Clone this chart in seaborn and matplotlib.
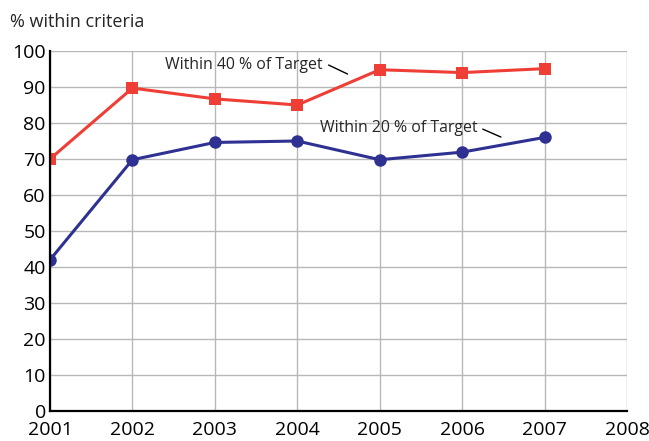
import numpy as np
import pandas as pd
import matplotlib
matplotlib.use("Agg")
import matplotlib.pyplot as plt
import seaborn as sns

years = [2001, 2002, 2003, 2004, 2005, 2006, 2007]
within_40 = [70, 89.7, 86.7, 85, 94.8, 94, 95.1]
within_20 = [42, 69.8, 74.6, 75, 69.8, 71.9, 76]
x_ticks = [2001, 2002, 2003, 2004, 2005, 2006, 2007, 2008]
y_ticks = [0, 10, 20, 30, 40, 50, 60, 70, 80, 90, 100]

RED = "#EF3E36"
BLUE = "#2E3192"

sns.set_style("white")
plt.rcParams['font.family'] = ['Open Sans', 'DejaVu Sans']

df = pd.DataFrame({"year": years + years,
                   "value": within_40 + within_20,
                   "series": ["40"] * len(years) + ["20"] * len(years)})

fig = plt.figure(figsize=(6.49, 4.41), dpi=100)
ax = fig.add_axes([50 / 649, 30 / 441, 577 / 649, 360 / 441])

sns.lineplot(data=df[df.series == "40"], x="year", y="value", color=RED,
             marker="s", markersize=9, markeredgewidth=0, linewidth=2.2, ax=ax)
sns.lineplot(data=df[df.series == "20"], x="year", y="value", color=BLUE,
             marker="o", markersize=9, markeredgewidth=0, linewidth=2.2, ax=ax)

ax.set_xlim(2001, 2008)
ax.set_ylim(0, 100)
ax.set_xticks(x_ticks)
ax.set_yticks(y_ticks)
ax.grid(True, color="#b8b8b8", linewidth=1)
ax.set_axisbelow(True)
for s in ["top", "right"]:
    ax.spines[s].set_visible(False)
for s in ["left", "bottom"]:
    ax.spines[s].set_color("black")
    ax.spines[s].set_linewidth(1.6)
ax.tick_params(direction="in", length=6, width=1.5, labelsize=14, colors="black")
ax.tick_params(axis="x", pad=7)
ax.tick_params(axis="y", pad=3)
ax.set_xlabel("")
ax.set_ylabel("")
fig.text(10 / 649, 1 - 22 / 441, "% within criteria", fontsize=13, va="center", ha="left")

# series labels with short leader lines
ax.text(2004.31, 96.1, "Within 40 % of Target", fontsize=11.4, ha="right", va="center")
ax.plot([2004.38, 2004.61], [96.1, 93.6], color="black", linewidth=1)
ax.text(2006.19, 78.6, "Within 20 % of Target", fontsize=11.4, ha="right", va="center")
ax.plot([2006.25, 2006.47], [78.3, 76.1], color="black", linewidth=1)

fig.savefig("out.png", dpi=100)
